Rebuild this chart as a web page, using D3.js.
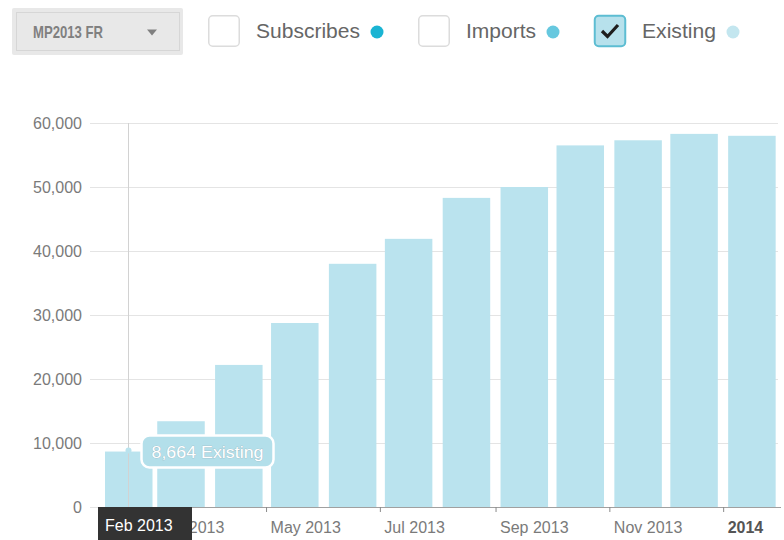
<!DOCTYPE html>
<html lang="en">
<head>
    <meta charset="UTF-8">
    <title>Existing</title>
    <style>
        *{
            margin: 0;
            padding: 0;
        }
        body{
            background: #fff;
            font-family: "Liberation Sans", Arial, sans-serif;
        }
        #myBar text{
            font-family: "Liberation Sans", Arial, sans-serif;
        }
        .yAxis text, .xAxis text{
            fill: #7a7a7a;
            font-size: 16px;
        }
    </style>
</head>
<body>
<div id="myBar"></div>
<script src="https://cdnjs.cloudflare.com/ajax/libs/d3/7.8.5/d3.min.js"></script>
<script>
    /* data */
    var months = ["2013-02-01", "2013-03-01", "2013-04-01", "2013-05-01", "2013-06-01", "2013-07-01",
        "2013-08-01", "2013-09-01", "2013-10-01", "2013-11-01", "2013-12-01", "2014-01-01"];
    var existing = [8664, 13400, 22200, 28750, 38000, 41900, 48300, 50000, 56500, 57300, 58300, 58000];
    var yTicks = [0, 10000, 20000, 30000, 40000, 50000, 60000];
    var legendNames = ["Subscribes", "Imports", "Existing"];
    var legendColors = ["#1ab4d3", "#66c8df", "#c3e6ef"];
    var legendChecked = [false, false, true];
    var dropdownLabel = "MP2013 FR";
    var hoverIndex = 0;
    var hoverDate = "2013-02-16";

    var parse = d3.timeParse("%Y-%m-%d");
    var dates = months.map(parse);

    var W = 784, H = 540;
    var svg = d3.select("#myBar").append("svg")
        .attr("width", W)
        .attr("height", H);

    /* header: dropdown */
    var head = svg.append("g");
    head.append("rect")
        .attr("x", 12).attr("y", 8)
        .attr("width", 171).attr("height", 47)
        .attr("rx", 2)
        .attr("fill", "#e8e8e8");
    head.append("rect")
        .attr("x", 16.5).attr("y", 12.5)
        .attr("width", 163).attr("height", 38)
        .attr("fill", "none")
        .attr("stroke", "#c4c4c4")
        .attr("stroke-dasharray", "1,1");
    head.append("text")
        .attr("x", 33).attr("y", 38)
        .attr("font-size", 17)
        .attr("font-weight", "bold")
        .attr("fill", "#808080")
        .attr("textLength", 70)
        .attr("lengthAdjust", "spacingAndGlyphs")
        .text(dropdownLabel);
    head.append("path")
        .attr("d", "M147,29.5 L157,29.5 L152,35.5 Z")
        .attr("fill", "#808080");

    /* header: checkboxes + legend */
    var boxX = [208, 418, 594];
    var textW = [104, 70, 74];
    var legend = head.selectAll(".leg")
        .data(legendNames)
        .enter()
        .append("g")
        .attr("class", "leg")
        .attr("transform", function (d, i) {
            return "translate(" + boxX[i] + ",0)";
        });
    legend.append("rect")
        .attr("x", 0.75).attr("y", 15.75)
        .attr("width", 30.5).attr("height", 30.5)
        .attr("rx", 4)
        .attr("fill", function (d, i) { return legendChecked[i] ? "#b7e1ec" : "#fff"; })
        .attr("stroke", function (d, i) { return legendChecked[i] ? "#5dbdd2" : "#dcdcdc"; })
        .attr("stroke-width", function (d, i) { return legendChecked[i] ? 2 : 1.5; });
    legend.filter(function (d, i) { return legendChecked[i]; })
        .append("path")
        .attr("d", "M8,31 L13.5,36.5 L24,25")
        .attr("fill", "none")
        .attr("stroke", "#1e1e1e")
        .attr("stroke-width", 3.2);
    legend.append("text")
        .attr("x", 48).attr("y", 38)
        .attr("font-size", 20)
        .attr("fill", "#666")
        .attr("textLength", function (d, i) { return textW[i]; })
        .attr("lengthAdjust", "spacingAndGlyphs")
        .text(function (d) { return d; });
    legend.append("circle")
        .attr("cx", function (d, i) { return 48 + textW[i] + 17; })
        .attr("cy", 32)
        .attr("r", 6.5)
        .attr("fill", function (d, i) { return legendColors[i]; });

    /* scales */
    var xStart = dates[0];
    var xEnd = d3.timeMonth.offset(dates[dates.length - 1], 1);
    var x = d3.scaleTime()
        .domain([xStart, xEnd])
        .range([100, 781]);
    var y = d3.scaleLinear()
        .domain([0, 60000])
        .range([507, 123]);

    /* y axis + grid */
    var yAxis = svg.append("g")
        .attr("class", "yAxis")
        .attr("transform", "translate(90,0)")
        .call(d3.axisRight(y)
            .tickValues(yTicks)
            .tickSize(688)
            .tickFormat(d3.format(",")));
    yAxis.select(".domain").remove();
    yAxis.selectAll(".tick line")
        .attr("stroke", "#e4e4e4");
    yAxis.selectAll(".tick text")
        .attr("x", -8)
        .attr("dy", "0.34em")
        .attr("text-anchor", "end");

    /* bars */
    var barW = 47.5;
    svg.append("g")
        .selectAll(".bar")
        .data(existing)
        .enter()
        .append("rect")
        .attr("class", "bar")
        .attr("x", function (d, i) { return x(dates[i]) + 5; })
        .attr("y", function (d) { return y(d); })
        .attr("width", barW)
        .attr("height", function (d) { return y(0) - y(d); })
        .attr("fill", "#bae3ee");

    /* x axis */
    var xAxis = svg.append("g")
        .attr("class", "xAxis")
        .attr("transform", "translate(0,507)")
        .call(d3.axisBottom(x)
            .ticks(d3.timeMonth.every(2))
            .tickSize(5)
            .tickSizeOuter(0)
            .tickFormat(function (d) {
                return d.getMonth() === 0 ? d3.timeFormat("%Y")(d) : d3.timeFormat("%b %Y")(d);
            }));
    xAxis.select(".domain")
        .attr("stroke", "#a0a0a0")
        .attr("d", "M98,0.5H781");
    xAxis.selectAll(".tick line").attr("stroke", "#8a8a8a");
    xAxis.selectAll(".tick text")
        .attr("x", 4)
        .attr("y", 12)
        .attr("dy", "0.9em")
        .attr("text-anchor", "start")
        .attr("font-weight", function (d) { return d.getMonth() === 0 ? "bold" : null; })
        .style("fill", function (d) { return d.getMonth() === 0 ? "#555" : null; });

    /* hover: crosshair, dot, tooltip */
    var hx = Math.round(x(parse(hoverDate))) + 0.5;
    var hv = existing[hoverIndex];
    svg.append("line")
        .attr("x1", hx).attr("x2", hx)
        .attr("y1", y(60000)).attr("y2", y(0))
        .attr("stroke", "#d2d2d2");
    svg.append("circle")
        .attr("cx", hx).attr("cy", y(hv) - 1)
        .attr("r", 3)
        .attr("fill", "#bae3ee");

    var tip = svg.append("g")
        .attr("transform", "translate(" + (hx + 13) + "," + (y(hv) - 16) + ")");
    tip.append("rect")
        .attr("x", 0).attr("y", 0)
        .attr("width", 132).attr("height", 32)
        .attr("rx", 8)
        .attr("fill", "#b3dfea")
        .attr("stroke", "#fff")
        .attr("stroke-width", 2.5);
    tip.append("text")
        .attr("x", 66).attr("y", 22)
        .attr("text-anchor", "middle")
        .attr("font-size", 17)
        .attr("fill", "#fff")
        .attr("stroke", "#9bb7c0")
        .attr("stroke-width", 0.6)
        .attr("paint-order", "stroke")
        .attr("textLength", 112)
        .attr("lengthAdjust", "spacingAndGlyphs")
        .text(d3.format(",")(hv) + " Existing");

    /* date flag under the axis */
    var flag = svg.append("g");
    flag.append("rect")
        .attr("x", x(xStart) - 2).attr("y", 507)
        .attr("width", 94).attr("height", 33)
        .attr("fill", "#333");
    flag.append("text")
        .attr("x", x(xStart) + 5).attr("y", 531)
        .attr("font-size", 16)
        .attr("fill", "#fff")
        .text(d3.timeFormat("%b %Y")(dates[hoverIndex]));
</script>
</body>
</html>
